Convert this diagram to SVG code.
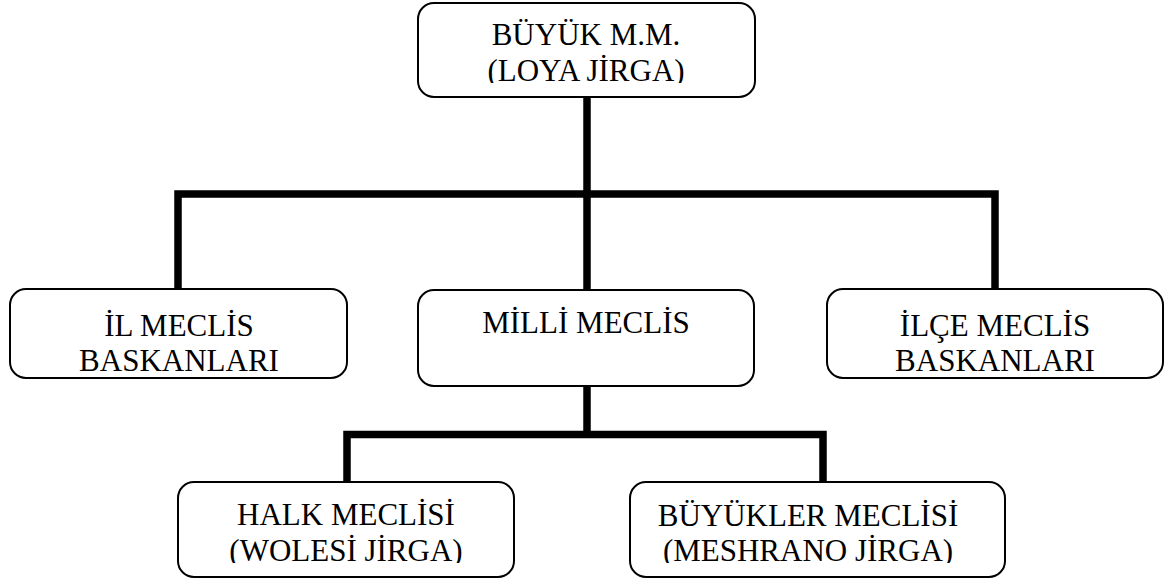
<svg xmlns="http://www.w3.org/2000/svg" width="1167" height="578" viewBox="0 0 1167 578">
<style>
.box{fill:#fff;stroke:#000;stroke-width:2}
.t{font-family:"Liberation Serif","Times New Roman",serif;font-size:31px;fill:#000;text-anchor:middle}
.c{fill:none;stroke:#000;stroke-width:7.5;stroke-linejoin:miter;stroke-linecap:butt}
</style>
<defs>
<clipPath id="clipTop" clipPathUnits="userSpaceOnUse"><rect x="418" y="0" width="338" height="83"/></clipPath>
<clipPath id="clipHalk" clipPathUnits="userSpaceOnUse"><rect x="178" y="482" width="337" height="81"/></clipPath>
<clipPath id="clipBuy" clipPathUnits="userSpaceOnUse"><rect x="630" y="482" width="376" height="81"/></clipPath>
</defs>
<g id="connectors">
<path class="c" d="M587,97 V290"/>
<path class="c" d="M178,289 V194 H995 V289"/>
<path class="c" d="M587,386 V434.5"/>
<path class="c" d="M347,482 V434.5 H823 V482"/>
</g>
<g id="node-buyuk-mm">
<rect class="box" x="418" y="3" width="337" height="94" rx="16"/>
<g clip-path="url(#clipTop)">
<text class="t" x="586" y="45">BÜYÜK M.M.</text>
<text class="t" x="586" y="81">(LOYA JİRGA)</text>
</g>
</g>
<g id="node-il">
<rect class="box" x="10" y="289" width="337" height="89" rx="16"/>
<text class="t" x="179" y="336">İL MECLİS</text>
<text class="t" x="179" y="371">BASKANLARI</text>
</g>
<g id="node-milli">
<rect class="box" x="418" y="290" width="336" height="96" rx="16"/>
<text class="t" x="586" y="333">MİLLİ MECLİS</text>
</g>
<g id="node-ilce">
<rect class="box" x="827" y="289" width="336" height="89" rx="16"/>
<text class="t" x="995" y="336">İLÇE MECLİS</text>
<text class="t" x="995" y="371">BASKANLARI</text>
</g>
<g id="node-halk">
<rect class="box" x="178" y="482" width="336" height="95" rx="16"/>
<g clip-path="url(#clipHalk)">
<text class="t" x="346" y="525">HALK MECLİSİ</text>
<text class="t" x="346" y="561">(WOLESİ JİRGA)</text>
</g>
</g>
<g id="node-buyukler">
<rect class="box" x="630" y="482" width="375" height="95" rx="16"/>
<g clip-path="url(#clipBuy)">
<text class="t" x="808" y="526">BÜYÜKLER MECLİSİ</text>
<text class="t" x="808" y="561">(MESHRANO JİRGA)</text>
</g>
</g>
</svg>
